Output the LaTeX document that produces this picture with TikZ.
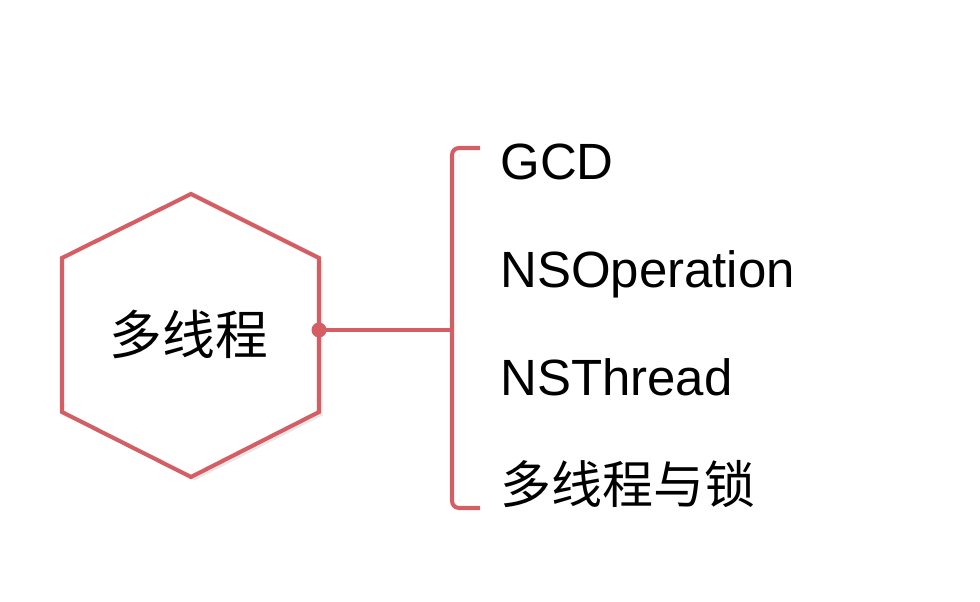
\documentclass[tikz,border=0pt]{standalone}
\usepackage{fontspec}
\setmainfont{Liberation Sans}
\newfontfamily\cjk{Noto Sans CJK SC}
\usetikzlibrary{shadows}
\definecolor{mindred}{RGB}{212,94,100}

\begin{document}
\begin{tikzpicture}[
    hexa/.style={draw=mindred,line width=2.3pt,fill=white,
      drop shadow={opacity=0.18,shadow xshift=2pt,shadow yshift=-2pt}},
    link/.style={draw=mindred,line width=2.3pt},
    item/.style={anchor=base west,inner sep=0pt,font=\fontsize{29}{34}\selectfont}
  ]
    \useasboundingbox (0,0) rectangle (19.6,12.04);

    % hexagon
    \draw[hexa] (3.82,8.16) -- (6.38,6.88) -- (6.38,3.80) -- (3.82,2.50)
      -- (1.24,3.80) -- (1.24,6.88) -- cycle;
    \node[inner sep=0pt,font=\cjk\fontsize{30}{34}\selectfont] (mt) at (3.78,5.36) {多线程};

    % bracket
    \coordinate (dot) at (6.38,5.44);
    \coordinate (mid) at (9.04,5.44);
    \coordinate (btop) at (9.04,9.08);
    \coordinate (bbot) at (9.04,1.88);
    \draw[link] (dot) -- (mid);
    \draw[link,rounded corners=4pt] ([xshift=0.56cm]btop) -- (btop) -- (bbot) -- ([xshift=0.56cm]bbot);
    \fill[mindred] (dot) circle (0.15);

    % items
    \node[item] (gcd) at (10.0,8.44) {GCD};
    \node[item] (nsop) at (10.0,6.28) {NSOperation};
    \node[item] (nsth) at (10.0,4.12) {NSThread};
    \node[item,font=\cjk\fontsize{29}{34}\selectfont] (lock) at (10.0,1.96) {多线程与锁};
\end{tikzpicture}
\end{document}
